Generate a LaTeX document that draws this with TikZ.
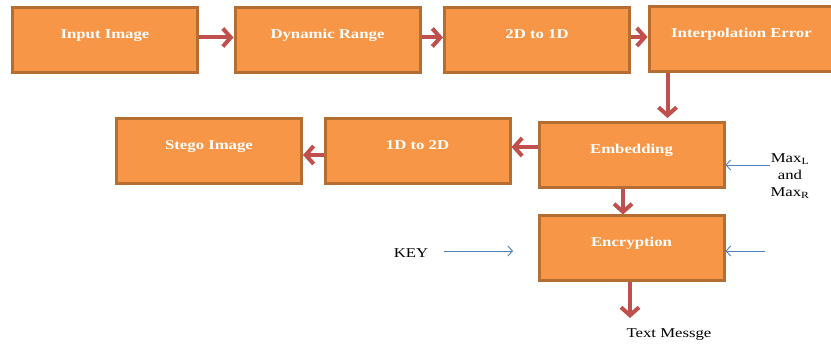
\documentclass[tikz,border=0pt]{standalone}
\usepackage{fontspec}
\setmainfont{Liberation Serif}
\newfontfamily\boxfont[FakeStretch=1.24]{Liberation Serif}
\usetikzlibrary{arrows.meta}
\definecolor{boxfill}{HTML}{F79646}
\definecolor{boxline}{HTML}{B66D31}
\definecolor{arrred}{HTML}{C0504D}
\definecolor{arrblue}{HTML}{4F81BD}
\tikzset{
 stepbox/.style={draw=boxline, line width=3pt, fill=boxfill, minimum width=185pt, minimum height=65pt, inner sep=0pt,
   font=\boxfont\bfseries\fontsize{13.5}{15}\selectfont, text=white, text height=10pt, text depth=13pt},
 redarr/.style={draw=arrred, line width=4pt, -{Straight Barb[length=8pt,width=18pt]}},
 bluearr/.style={draw=arrblue, line width=0.9pt, -{Straight Barb[length=4.5pt,width=10pt]}},
 plaintext/.style={font=\boxfont\fontsize{13.5}{17}\selectfont, inner sep=0pt, align=center}
}
\begin{document}
\begin{tikzpicture}[x=1pt,y=-1pt]
\clip (0,0) rectangle (831,347);
\fill[white] (0,0) rectangle (831,347);
\node[stepbox] (in) at (105,40) {Input Image};
\node[stepbox] (dr) at (327.5,40.5) {Dynamic Range};
\node[stepbox] (dd) at (537,40) {2D to 1D};
\node[stepbox] (ie) at (741.5,39) {Interpolation Error};
\node[stepbox] (emb) at (631.5,155) {Embedding};
\node[stepbox] (ud) at (417.5,151) {1D to 2D};
\node[stepbox] (st) at (209,151) {Stego Image};
\node[stepbox] (enc) at (631.5,248.5) {Encryption};
\node[plaintext] (max) at (790,176) {Max\textsubscript{L}\\and\\Max\textsubscript{R}};
\node[plaintext] (key) at (411,253) {KEY};
\node[plaintext] (msg) at (669,335) {Text Messge};
\coordinate (maxs) at (770,165);
\coordinate (keys) at (444,251);
\coordinate (keye) at (513,251);
\coordinate (encs) at (765,251);
% red connectors
\draw[redarr] ([yshift=2.5pt]in.east) -- ([yshift=2.5pt]in.east -| dr.west);
\draw[redarr] ([yshift=3pt]dr.east) -- ([yshift=3pt]dr.east -| dd.west);
\draw[redarr] ([yshift=3pt]dd.east) -- ([yshift=3pt]dd.east -| ie.west);
\draw[redarr, shorten >=3pt] ([xshift=20pt]ie.south west) -- ([xshift=20pt]ie.south west |- emb.north);
\draw[redarr] ([yshift=8pt]emb.west) -- ([yshift=8pt]emb.west -| ud.east);
\draw[redarr] ([yshift=-4pt]ud.west) -- ([yshift=-4pt]ud.west -| st.east);
\draw[redarr] ([xshift=-8.5pt]emb.south) -- ([xshift=-8.5pt]emb.south |- enc.north);
\draw[redarr] ([xshift=-1.5pt]enc.south) -- ([xshift=-1.5pt]enc.south |- 0,318);
% blue connectors
\draw[bluearr] (maxs) -- (maxs -| emb.east);
\draw[bluearr] (keys) -- (keye);
\draw[bluearr] (encs) -- (encs -| enc.east);
\end{tikzpicture}
\end{document}
